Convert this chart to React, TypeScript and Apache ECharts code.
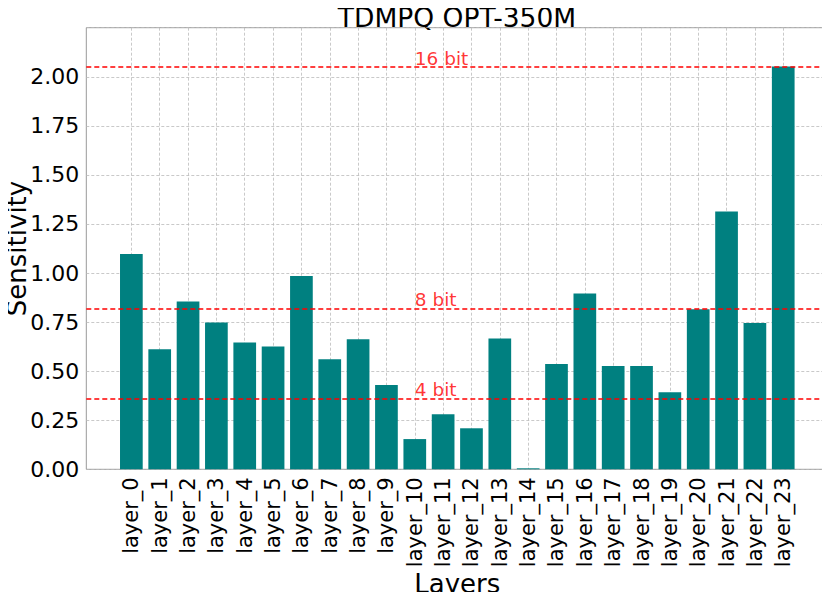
import React, { useEffect, useRef } from "react";
import * as echarts from "echarts";

const layers = [
  "layer_0", "layer_1", "layer_2", "layer_3", "layer_4", "layer_5", "layer_6", "layer_7",
  "layer_8", "layer_9", "layer_10", "layer_11", "layer_12", "layer_13", "layer_14", "layer_15",
  "layer_16", "layer_17", "layer_18", "layer_19", "layer_20", "layer_21", "layer_22", "layer_23",
];
const sensitivity = [
  1.097, 0.612, 0.855, 0.748, 0.646, 0.626, 0.985, 0.561, 0.663, 0.429, 0.154, 0.28,
  0.209, 0.667, 0.005, 0.537, 0.896, 0.526, 0.526, 0.392, 0.816, 1.313, 0.745, 2.052,
];
const thresholds = [
  { name: "16 bit", value: 2.052 },
  { name: "8 bit", value: 0.821 },
  { name: "4 bit", value: 0.363 },
];
const thresholdLabelX = 10;
const titleText = "TDMPQ OPT-350M";
const xName = "Layers";
const yName = "Sensitivity";

const FONT = "DejaVu Sans";

export default function App() {
  const ref = useRef<HTMLDivElement>(null);
  useEffect(() => {
    if (!ref.current) return;
    const chart = echarts.init(ref.current, null, { renderer: "svg" });
    const idx = layers.map((_, i) => i);
    chart.setOption({
      animation: false,
      textStyle: { fontFamily: FONT },
      graphic: [
        {
          type: "text",
          x: 457,
          y: 17,
          style: {
            text: titleText,
            font: `26.5px "${FONT}"`,
            fill: "#000",
            align: "center",
            verticalAlign: "middle",
          },
        },
        {
          type: "text",
          x: 457.3,
          y: 584,
          style: {
            text: xName,
            font: `26px "${FONT}"`,
            fill: "#000",
            align: "center",
            verticalAlign: "middle",
          },
        },
        {
          type: "text",
          x: 16.5,
          y: 248.5,
          rotation: Math.PI / 2,
          style: {
            text: yName,
            font: `26px "${FONT}"`,
            fill: "#000",
            align: "center",
            verticalAlign: "middle",
          },
        },
      ],
      grid: {
        left: 86.3,
        right: 1.7,
        top: 27.7,
        bottom: 130.7,
        show: true,
        borderColor: "#999",
        borderWidth: 1,
        containLabel: false,
        outerBoundsMode: "none",
      },
      xAxis: {
        type: "value",
        min: -1.59,
        max: 24.59,
        axisLine: { show: false },
        axisTick: { show: false, customValues: idx },
        axisLabel: {
          customValues: idx,
          rotate: 90,
          fontSize: 21,
          fontFamily: FONT,
          color: "#000",
          margin: 8,
          formatter: (v: number) => layers[Math.round(v)] ?? "",
        },
        splitLine: {
          show: true,
          lineStyle: { color: "#bbb", type: [3, 2], width: 0.8 },
        },
      },
      yAxis: {
        type: "value",
        min: 0,
        max: 2.25,
        interval: 0.25,
        axisLine: { show: false },
        axisTick: { show: false },
        axisLabel: {
          fontSize: 22,
          fontFamily: FONT,
          color: "#000",
          margin: 7,
          formatter: (v: number) => (v > 2.2 ? "" : v.toFixed(2)),
        },
        splitLine: {
          show: true,
          lineStyle: { color: "#bbb", type: [3, 2], width: 0.8 },
        },
      },
      series: [
        {
          type: "bar",
          data: sensitivity.map((v, i) => [i, v]),
          barWidth: 22.7,
          itemStyle: { color: "#008080" },
          markLine: {
            silent: true,
            symbol: "none",
            label: { show: false },
            lineStyle: { color: "#ff0000", type: [5, 3], width: 1.5 },
            data: thresholds.map((t) => ({ yAxis: t.value })),
            z: 10,
          },
        },
        {
          type: "scatter",
          symbolSize: 0,
          data: thresholds.map((t) => ({ value: [thresholdLabelX, t.value], name: t.name })),
          label: {
            show: true,
            formatter: (p: any) => p.name,
            position: [0, 1],
            align: "left",
            verticalAlign: "bottom",
            color: "#ff0000",
            fontSize: 18.5,
            fontFamily: FONT,
          },
          z: 11,
        },
      ],
    });
    return () => chart.dispose();
  }, []);
  return <div ref={ref} style={{ width: 830, height: 600, margin: -8 }} />;
}
